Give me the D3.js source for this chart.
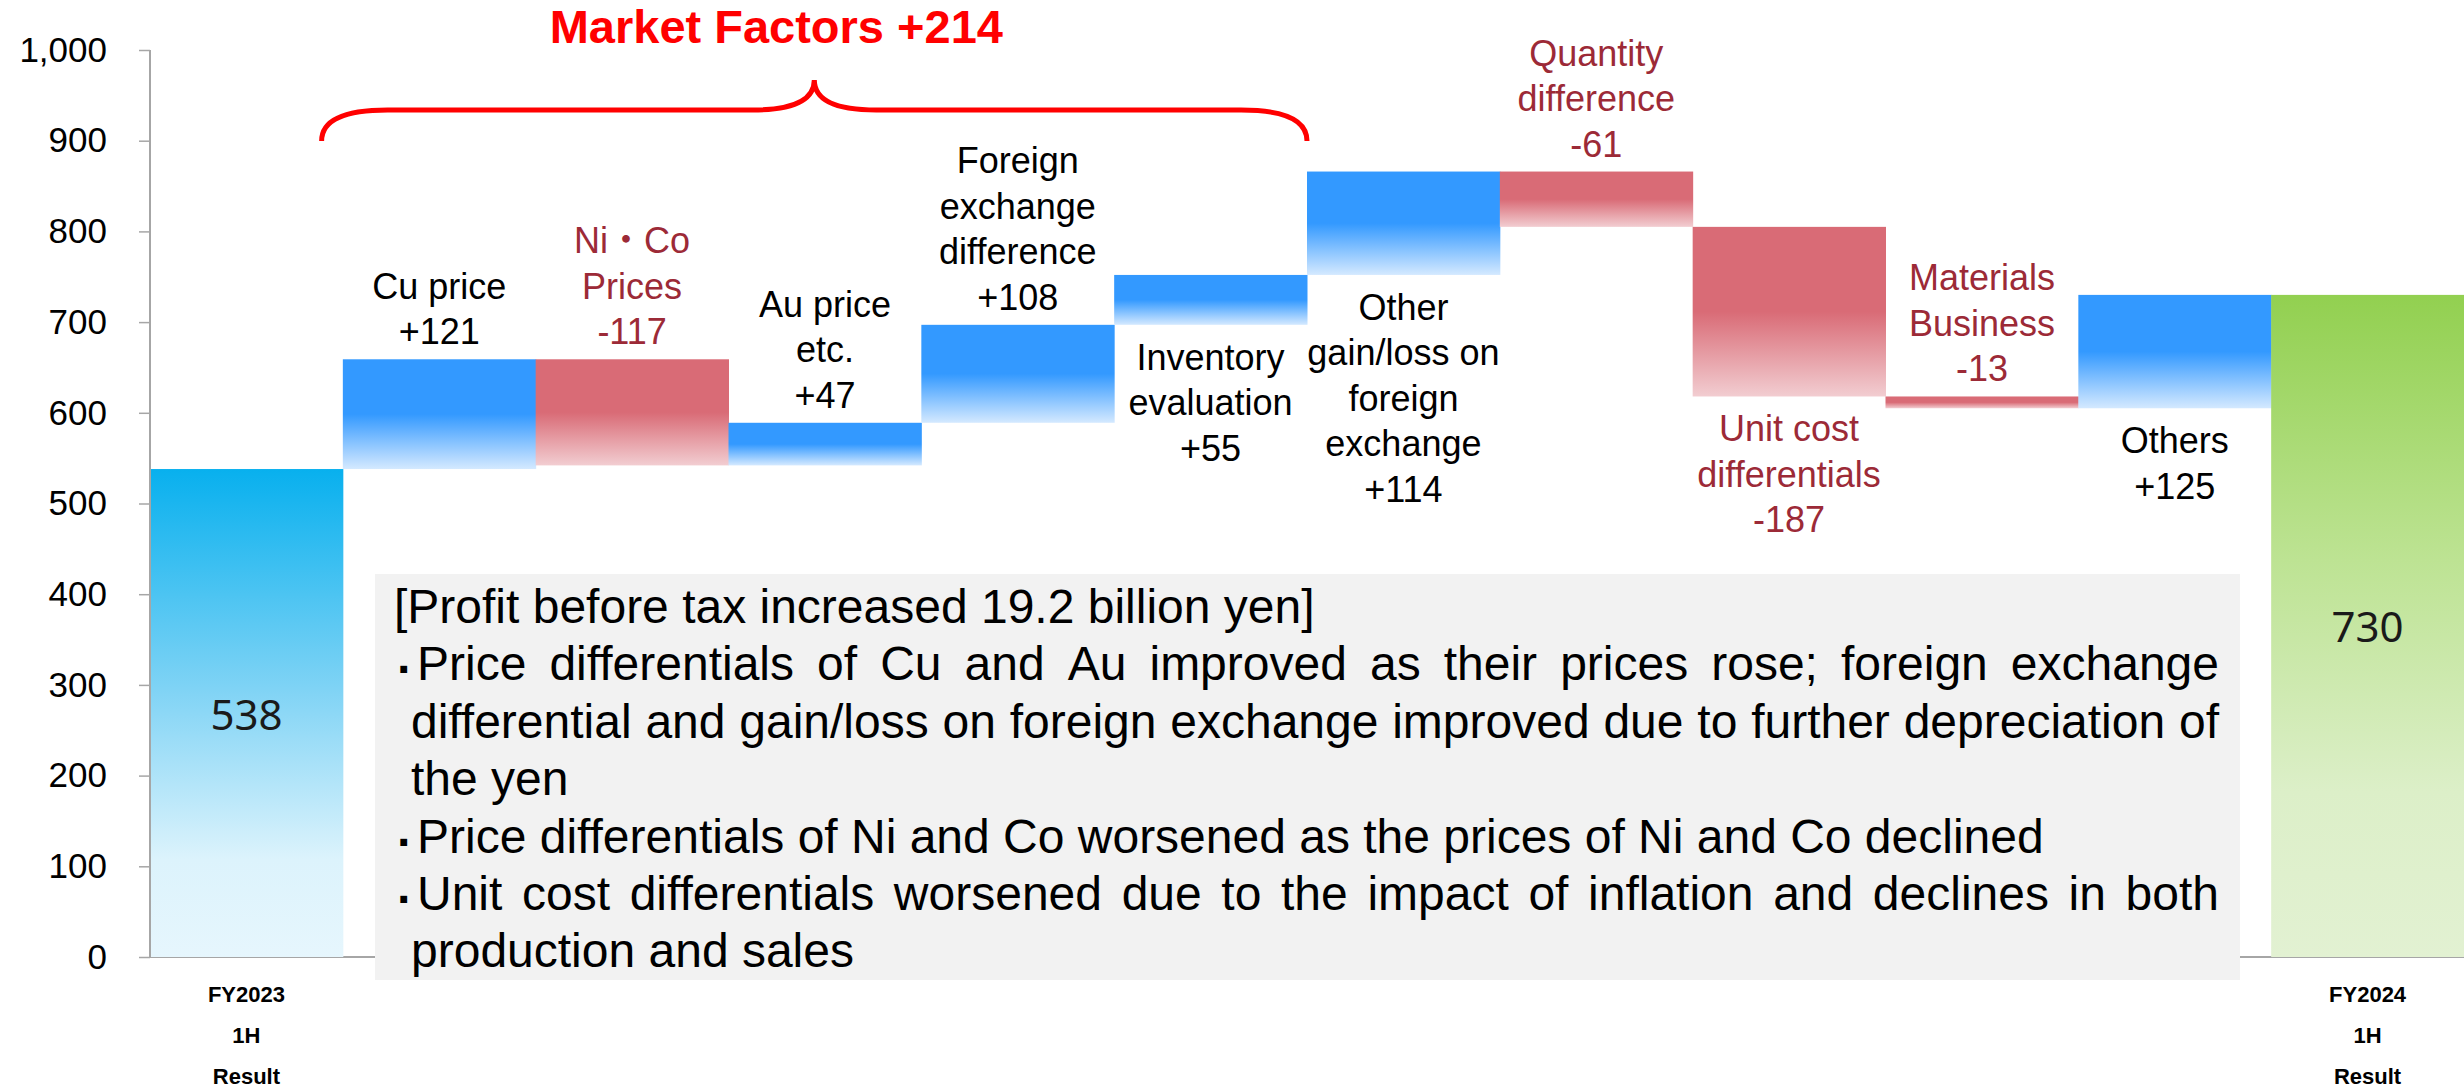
<!DOCTYPE html>
<meta charset="utf-8">
<style>
body { margin: 0; background: #fff; }
svg text { font-family: "Liberation Sans", Arial, "Noto Sans CJK JP", sans-serif; }
.tick text { font-size: 35px; fill: #000; }
.tick line { stroke: #a6a6a6; stroke-width: 1.5px; }
.domain { display: none; }
.barLabel { font-size: 36px; }
.total { font-family: "Noto Sans", sans-serif !important; font-size: 42px; fill: #1a1a1a; }
.xlab { font-size: 22px; font-weight: bold; }
.note { font-size: 48px; fill: #000; }
</style>
<body>
<svg id="svg" width="2464" height="1091"></svg>
<script src="https://cdn.jsdelivr.net/npm/d3@7"></script>
<script>
// chart data
const categories = ["FY2023 1H Result", "Cu price", "Ni・Co Prices", "Au price etc.", "Foreign exchange difference",
  "Inventory evaluation", "Other gain/loss on foreign exchange", "Quantity difference",
  "Unit cost differentials", "Materials Business", "Others", "FY2024 1H Result"];
const values = [538, 121, -117, 47, 108, 55, 114, -61, -187, -13, 125, 730];
const kinds = ["total", "delta", "delta", "delta", "delta", "delta", "delta", "delta", "delta", "delta", "delta", "total"];
const labelNames = [[], ["Cu price"], ["Ni・Co", "Prices"], ["Au price", "etc."], ["Foreign", "exchange", "difference"],
  ["Inventory", "evaluation"], ["Other", "gain/loss on", "foreign", "exchange"], ["Quantity", "difference"],
  ["Unit cost", "differentials"], ["Materials", "Business"], ["Others"], []];
const labelSide = [null, "above", "above", "above", "above", "below", "below", "above", "below", "above", "below", null];
const totalNames = [["FY2023", "1H", "Result"], ["FY2024", "1H", "Result"]];
const yTicks = [0, 100, 200, 300, 400, 500, 600, 700, 800, 900, 1000];
const marketTitle = "Market Factors +214";
const noteTitle = "[Profit before tax increased 19.2 billion yen]";
const noteBullets = [
  ["Price differentials of Cu and Au improved as their prices rose; foreign exchange",
   "differential and gain/loss on foreign exchange improved due to further depreciation of",
   "the yen"],
  ["Price differentials of Ni and Co worsened as the prices of Ni and Co declined"],
  ["Unit cost differentials worsened due to the impact of inflation and declines in both",
   "production and sales"]
];

const svg = d3.select("#svg");
const W = 2464;

const x = d3.scaleBand().domain(categories).range([150, W]).padding(0);
const y = d3.scaleLinear().domain([0, 1000]).range([957, 50]);

// gradients
const defs = svg.append("defs");
function grad(id, stops) {
  const g = defs.append("linearGradient").attr("id", id)
    .attr("x1", 0).attr("y1", 0).attr("x2", 0).attr("y2", 1);
  stops.forEach(s => g.append("stop").attr("offset", s[0]).attr("stop-color", s[1]));
}
grad("gStart", [[0, "#08b0ee"], [0.45, "#7fd3f5"], [0.8, "#dcf3fc"], [1, "#e6f6fd"]]);
grad("gEnd", [[0, "#92d050"], [0.4, "#bde393"], [0.75, "#dcefc8"], [1, "#e2f1d2"]]);
grad("gUp", [[0, "#3399ff"], [0.5, "#3399ff"], [1, "#d4e9ff"]]);
grad("gDown", [[0, "#d96b76"], [0.5, "#d96b76"], [1, "#f2cdd1"]]);

// signed value text with a plain hyphen, as on the slide
const signed = v => (v > 0 ? "+" : "-") + Math.abs(v);

// waterfall running values
let run = 0;
const bars = values.map((v, i) => {
  if (kinds[i] === "total") { run = v; return {cat: categories[i], i, lo: 0, hi: v, v}; }
  const a = run; run += v;
  return {cat: categories[i], i, lo: Math.min(a, run), hi: Math.max(a, run), v};
});

// x axis base line
svg.append("line")
  .attr("x1", 150).attr("x2", W)
  .attr("y1", y(0)).attr("y2", y(0))
  .attr("stroke", "#a6a6a6").attr("stroke-width", 2);

// bars
svg.append("g").selectAll("rect")
  .data(bars)
  .enter().append("rect")
    .attr("x", d => x(d.cat))
    .attr("width", x.bandwidth() + 0.5)
    .attr("y", d => y(d.hi))
    .attr("height", d => y(d.lo) - y(d.hi))
    .attr("fill", d => {
      if (kinds[d.i] === "total") return d.i === 0 ? "url(#gStart)" : "url(#gEnd)";
      return d.v >= 0 ? "url(#gUp)" : "url(#gDown)";
    });

// y axis
svg.append("g")
  .attr("transform", "translate(150,0)")
  .call(d3.axisLeft(y).tickValues(yTicks).tickFormat(d3.format(",")).tickSize(11).tickSizeOuter(0).tickPadding(32));
svg.append("line")
  .attr("x1", 150).attr("x2", 150).attr("y1", y(1000)).attr("y2", y(0))
  .attr("stroke", "#a6a6a6").attr("stroke-width", 2);

// labels on the change bars
const lineH = 45.5;
bars.forEach(d => {
  const side = labelSide[d.i];
  if (!side) return;
  const lines = labelNames[d.i].concat([signed(d.v)]);
  const cx = x(d.cat) + x.bandwidth() / 2;
  const col = d.v < 0 ? "#9c2a37" : "#000";
  lines.forEach((t, k) => {
    const by = side === "above"
      ? y(d.hi) - 15 - (lines.length - 1 - k) * lineH
      : y(d.lo) + 45 + k * lineH;
    svg.append("text").attr("class", "barLabel")
      .attr("x", cx).attr("y", by)
      .attr("text-anchor", "middle").attr("fill", col)
      .text(t);
  });
});

// totals
bars.filter(d => kinds[d.i] === "total").forEach((d, j) => {
  const cx = x(d.cat) + x.bandwidth() / 2;
  svg.append("text").attr("class", "total")
    .attr("x", cx).attr("y", (y(d.hi) + y(0)) / 2)
    .attr("text-anchor", "middle").attr("dominant-baseline", "central")
    .text(d.v);
  totalNames[j].forEach((t, k) => {
    svg.append("text").attr("class", "xlab")
      .attr("x", cx).attr("y", y(0) + 45 + k * 41)
      .attr("text-anchor", "middle")
      .text(t);
  });
});

// market factors brace
const bl = x(categories[1]) - x.bandwidth() * 0.11,
      br = x(categories[6]),
      bm = (bl + br) / 2;
const yl = 110, ye = 141, yt = 80;
svg.append("path")
  .attr("d", `M${bl},${ye} Q${bl},${yl} ${bl + 66},${yl} L${bm - 62},${yl} Q${bm},${yl} ${bm},${yt}
              Q${bm},${yl} ${bm + 62},${yl} L${br - 66},${yl} Q${br},${yl} ${br},${ye}`)
  .attr("fill", "none").attr("stroke", "#ff0000").attr("stroke-width", 5);
svg.append("text")
  .attr("x", bm - 38).attr("y", 43)
  .attr("text-anchor", "middle")
  .attr("fill", "#ff0000").style("font-size", "47px").style("font-weight", "bold")
  .text(marketTitle);

// note box
const box = {x: 375, y: 574, w: 1865, h: 406};
svg.append("rect")
  .attr("x", box.x).attr("y", box.y).attr("width", box.w).attr("height", box.h)
  .attr("fill", "#f2f2f2");
const note = svg.append("g").attr("class", "note");
const rightEdge = 2219, base0 = 623, noteH = 57.4;

function measure(t) {
  const tmp = note.append("text").text(t);
  const w = tmp.node().getComputedTextLength();
  tmp.remove();
  return w;
}
function drawLine(t, x0, by, justify) {
  if (!justify) {
    note.append("text").attr("x", x0).attr("y", by).text(t);
    return;
  }
  const words = t.split(" ");
  const ws = words.map(measure);
  const gap = (rightEdge - x0 - d3.sum(ws)) / (words.length - 1);
  let cx = x0;
  const txt = note.append("text").attr("y", by);
  words.forEach((w, k) => {
    txt.append("tspan").attr("x", cx).text(w);
    cx += ws[k] + gap;
  });
}

let row = 0;
drawLine(noteTitle, 394, base0, false);
row++;
noteBullets.forEach(para => {
  note.append("text")
    .attr("x", 405).attr("y", base0 + row * noteH)
    .attr("dy", 6)
    .attr("text-anchor", "middle")
    .style("font-weight", "bold")
    .text("·");
  para.forEach((t, k) => {
    drawLine(t, k === 0 ? 417 : 411, base0 + row * noteH, k < para.length - 1);
    row++;
  });
});
</script>
</body>
